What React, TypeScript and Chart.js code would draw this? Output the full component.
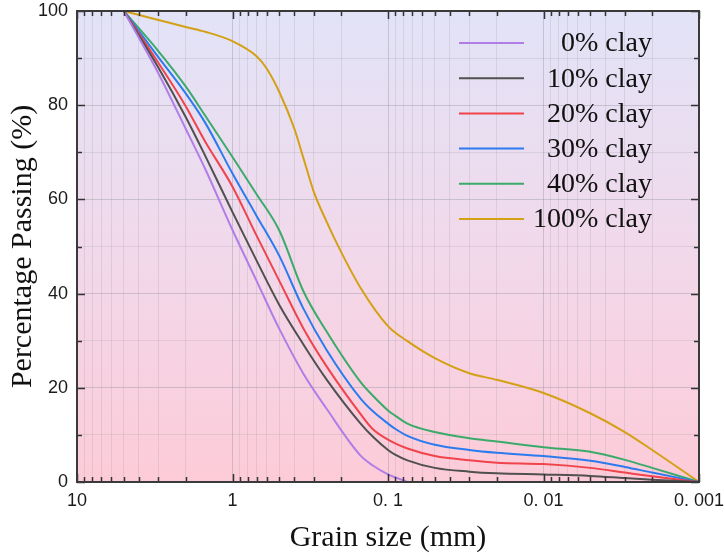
import { useEffect, useRef } from "react";
import { Chart, registerables } from "chart.js";
Chart.register(...registerables);

// Grain sizes (mm) for the sand–clay mixtures
const SIZES = [5, 3, 2, 1.5, 1, 0.7, 0.5, 0.35, 0.25, 0.15, 0.125, 0.1, 0.09, 0.075, 0.05, 0.03, 0.02, 0.01, 0.005, 0.003, 0.002, 0.001];
// Grain sizes (mm) for pure clay
const SIZES_100 = [5, 3, 2, 1.5, 1, 0.7, 0.6, 0.5, 0.4, 0.35, 0.3, 0.25, 0.2, 0.15, 0.1, 0.075, 0.05, 0.03, 0.02, 0.01, 0.005, 0.003, 0.002, 0.001];

const CLAY_0 = [100, 86.8, 75, 66.5, 53.5, 42.7, 32.5, 23, 15.7, 5.6, 3.5, 1.6, 1.0, 0];
const CLAY_10 = [100, 88, 77.5, 69.3, 57.3, 47, 37.6, 29.2, 21.9, 12.4, 9.6, 6.8, 5.8, 4.6, 3.0, 2.2, 1.85, 1.6, 1.3, 0.85, 0.5, 0];
const CLAY_20 = [100, 89, 79.8, 72.3, 62.7, 52.3, 42.7, 32.6, 24.7, 14.4, 11.2, 9.0, 8.2, 7.1, 5.5, 4.6, 4.1, 3.8, 3.0, 2.0, 1.2, 0];
const CLAY_30 = [100, 90.2, 82.5, 76.3, 65.5, 56.5, 48, 36.8, 28.2, 17.7, 15, 12.4, 11.3, 9.8, 7.9, 6.8, 6.2, 5.5, 4.5, 3.2, 2.0, 0];
const CLAY_40 = [100, 91.5, 84, 77.8, 69, 61.1, 53.4, 40.5, 32.1, 21.2, 18.3, 15.2, 14.1, 12.4, 10.6, 9.3, 8.6, 7.4, 6.4, 4.7, 3.0, 0];
const CLAY_100 = [100, 98.1, 96.6, 95.6, 93.6, 90.4, 87.7, 82.8, 75, 68.8, 61.6, 55.5, 48.8, 41.2, 33.1, 29.9, 26.3, 23.1, 21.7, 18.9, 14.6, 10.6, 6.8, 0];

const SERIES_LABELS = ["0% clay", "10% clay", "20% clay", "30% clay", "40% clay", "100% clay"];
const SERIES_COLORS = ["#B07EE6", "#505050", "#F0434B", "#2B7BEF", "#3BAA6B", "#D4A015"];

const X_MAJOR = [10, 1, 0.1, 0.01, 0.001];
const X_TICK_LABELS = ["10", "1", "0. 1", "0. 01", "0. 001"];
const Y_TICKS = [0, 10, 20, 30, 40, 50, 60, 70, 80, 90, 100];
const Y_LABELED = [0, 20, 40, 60, 80, 100];

const X_ALL: number[] = (() => {
  const out: number[] = [10];
  for (const d of [1, 0.1, 0.01, 0.001]) {
    for (let m = 9; m >= 1; m--) out.push(Number((m * d).toPrecision(6)));
  }
  return out;
})();

const majorIndex = (v: number) =>
  X_MAJOR.findIndex((m) => Math.abs(Math.log10(v) - Math.log10(m)) < 1e-6);

const SERIF = "'Liberation Serif', 'Times New Roman', serif";
const SANS = "'Liberation Sans', Arial, sans-serif";

const zip = (xs: number[], ys: number[]) => ys.map((y, i) => ({ x: xs[i], y }));

const noPad = (scale: any) => {
  scale.paddingLeft = 0;
  scale.paddingRight = 0;
  scale.paddingTop = 0;
  scale.paddingBottom = 0;
};

const bgPlugin = {
  id: "bgGradient",
  beforeDraw(chart: any) {
    const { ctx, chartArea: a } = chart;
    const g = ctx.createLinearGradient(0, a.top, 0, a.bottom);
    g.addColorStop(0, "#E2E3F7");
    g.addColorStop(0.5, "#F1D9EB");
    g.addColorStop(1, "#FDCBD8");
    ctx.save();
    ctx.fillStyle = g;
    ctx.fillRect(a.left, a.top, a.right - a.left, a.bottom - a.top);
    ctx.restore();
  },
};

const framePlugin = {
  id: "frameTicksLegend",
  afterDatasetsDraw(chart: any) {
    const { ctx, chartArea: a, scales } = chart;
    const xs = scales.x;
    const ys = scales.y;
    ctx.save();
    ctx.strokeStyle = "#333";
    ctx.lineWidth = 1.5;
    for (const v of X_ALL) {
      const px = Math.round(xs.getPixelForValue(v)) + 0.5;
      const len = majorIndex(v) >= 0 ? 8 : 5;
      ctx.beginPath();
      ctx.moveTo(px, a.bottom);
      ctx.lineTo(px, a.bottom - len);
      ctx.moveTo(px, a.top);
      ctx.lineTo(px, a.top + len);
      ctx.stroke();
    }
    for (const v of Y_TICKS) {
      const py = Math.round(ys.getPixelForValue(v)) + 0.5;
      const len = v % 20 === 0 ? 8 : 5;
      ctx.beginPath();
      ctx.moveTo(a.left, py);
      ctx.lineTo(a.left + len, py);
      ctx.moveTo(a.right, py);
      ctx.lineTo(a.right - len, py);
      ctx.stroke();
    }
    ctx.lineWidth = 2;
    ctx.strokeStyle = "#3a3a3a";
    ctx.strokeRect(a.left, a.top, a.right - a.left, a.bottom - a.top);

    // legend inside plot
    const lx0 = a.right - 240;
    const lx1 = a.right - 175;
    const tx = a.right - 47;
    const y0 = a.top + 32;
    const dy = 35.2;
    ctx.font = `28px ${SERIF}`;
    ctx.textAlign = "right";
    ctx.textBaseline = "middle";
    chart.data.datasets.forEach((ds: any, i: number) => {
      const y = y0 + i * dy;
      ctx.strokeStyle = ds.borderColor;
      ctx.lineWidth = 2;
      ctx.beginPath();
      ctx.moveTo(lx0, y);
      ctx.lineTo(lx1, y);
      ctx.stroke();
      ctx.fillStyle = "#111";
      ctx.fillText(ds.label, tx, y + 1);
    });
    ctx.restore();
  },
};

export default function App() {
  const ref = useRef<HTMLCanvasElement | null>(null);
  useEffect(() => {
    if (!ref.current) return;
    const seriesY = [CLAY_0, CLAY_10, CLAY_20, CLAY_30, CLAY_40, CLAY_100];
    const chart = new Chart(ref.current, {
      type: "line",
      data: {
        datasets: seriesY.map((ys, i) => ({
          label: SERIES_LABELS[i],
          data: zip(i === 5 ? SIZES_100 : SIZES, ys),
          borderColor: SERIES_COLORS[i],
          backgroundColor: SERIES_COLORS[i],
          borderWidth: 2,
          pointRadius: 0,
          fill: false,
          cubicInterpolationMode: "monotone" as const,
        })),
      },
      options: {
        animation: false,
        responsive: false,
        layout: { padding: { left: 0, top: 11, right: 26, bottom: 0 } },
        plugins: { legend: { display: false }, tooltip: { enabled: false } },
        scales: {
          x: {
            type: "logarithmic",
            min: 0.001,
            max: 10,
            reverse: true,
            afterBuildTicks: (scale: any) => {
              scale.ticks = X_ALL.map((v) => ({ value: v, major: majorIndex(v) >= 0 }));
            },
            afterFit: (scale: any) => {
              scale.height = 76;
              noPad(scale);
            },
            ticks: {
              autoSkip: false,
              maxRotation: 0,
              minRotation: 0,
              padding: 8,
              color: "#1a1a1a",
              font: { family: SANS, size: 18 },
              callback: (v: any) => {
                const i = majorIndex(Number(v));
                return i >= 0 ? X_TICK_LABELS[i] : "";
              },
            },
            grid: {
              drawTicks: false,
              color: (c: any) =>
                c.tick && majorIndex(c.tick.value) >= 0 ? "rgba(150,150,160,0.42)" : "rgba(150,150,160,0.22)",
              lineWidth: 1,
            },
            border: { display: false },
            title: {
              display: true,
              text: "Grain size (mm)",
              color: "#111",
              font: { family: SERIF, size: 30 },
              padding: { top: 0, bottom: 2 },
            },
          },
          y: {
            type: "linear",
            min: 0,
            max: 100,
            afterBuildTicks: (scale: any) => {
              scale.ticks = Y_TICKS.map((v) => ({ value: v }));
            },
            afterFit: (scale: any) => {
              scale.width = 77;
              noPad(scale);
            },
            ticks: {
              autoSkip: false,
              padding: 9,
              color: "#1a1a1a",
              font: { family: SANS, size: 18 },
              callback: (v: any) => (Y_LABELED.includes(Number(v)) ? String(v) : ""),
            },
            grid: {
              drawTicks: false,
              color: (c: any) =>
                c.tick && c.tick.value % 20 === 0 ? "rgba(150,150,160,0.42)" : "rgba(150,150,160,0.22)",
              lineWidth: 1,
            },
            border: { display: false },
            title: {
              display: true,
              text: "Percentage Passing (%)",
              color: "#111",
              font: { family: SERIF, size: 30 },
              padding: { top: 5, bottom: 0 },
            },
          },
        },
      },
      plugins: [bgPlugin, framePlugin],
    } as any);
    return () => chart.destroy();
  }, []);
  return (
    <div style={{ position: "fixed", left: 0, top: 0, width: 725, height: 558, background: "#fff" }}>
      <canvas ref={ref} width={725} height={558} />
    </div>
  );
}
